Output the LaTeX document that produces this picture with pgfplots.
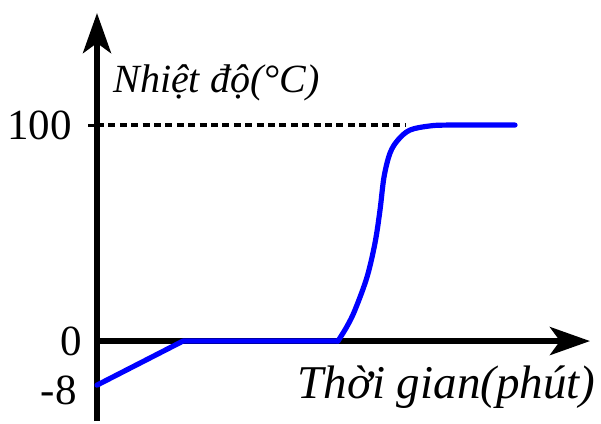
\documentclass[border=0pt]{standalone}
\usepackage{fontspec}
\setmainfont{Liberation Serif}
\usepackage{pgfplots}
\pgfplotsset{compat=1.18}
\usetikzlibrary{arrows.meta}
\definecolor{curve}{RGB}{0,0,255}
\begin{document}
\begin{tikzpicture}
\begin{axis}[
    x=5pt, y=1.08pt,
    xmin=-9.7, xmax=50.4,
    ymin=-14.52, ymax=157.9,
    y coord trafo/.code={\pgfmathparse{ifthenelse(#1<0,2.55*#1,#1)}},
    axis lines=none,
    clip=false,
    scale only axis,
]
% reference line at 100
\addplot[black, line width=1.8pt, dash pattern=on 3.5pt off 2.2pt]
    coordinates {(0,100) (30.8,100)};

% axes with arrows
\draw[line width=2.8pt, -{Stealth[length=20pt,width=14pt,inset=5pt]}]
    (axis cs:0,-14.52) -- (axis cs:0,151.85);
\draw[line width=2.8pt, -{Stealth[length=20pt,width=14pt,inset=5pt]}]
    (axis cs:0,0) -- (axis cs:49.3,0);
\draw[line width=1.5pt] (axis cs:-0.9,100) -- (axis cs:0,100);

% heating curve
\addplot[curve, line width=2.6pt, line join=round, line cap=round]
    coordinates {(0,-8) (8.6,0) (24.1,0)};
\addplot[curve, line width=2.6pt, line cap=round, smooth, tension=0.55]
    coordinates {(24.1,0) (25.0,6.8) (25.8,14.4) (27.0,29.6) (27.8,45.4)
                 (28.3,60.6) (28.7,75.9) (29.3,87.0) (30.1,93.1) (31.3,97.7)
                 (33.3,99.6) (35.3,100) (41.8,100)};

% tick labels
\node[anchor=east, inner sep=0pt, font=\fontsize{21.5}{25}\selectfont] at (axis cs:-2.5,100) {100};
\node[anchor=east, inner sep=0pt, font=\fontsize{21.5}{25}\selectfont] at (axis cs:-1.5,0) {0};
\node[anchor=east, inner sep=0pt, font=\fontsize{21.5}{25}\selectfont] at (axis cs:-2.0,-8.9) {-8};

% axis titles
\node[anchor=base west, inner sep=0pt, font=\fontsize{20}{24}\selectfont\itshape]
    at (axis cs:1.6,115.3) {Nhiệt độ(°C)};
\node[anchor=base west, inner sep=0pt, font=\fontsize{23.5}{28}\selectfont\itshape]
    at (axis cs:20.0,-10.35) {Thời gian(phút)};

\path (rel axis cs:0,0) rectangle (rel axis cs:1,1);
\end{axis}
\end{tikzpicture}
\end{document}
